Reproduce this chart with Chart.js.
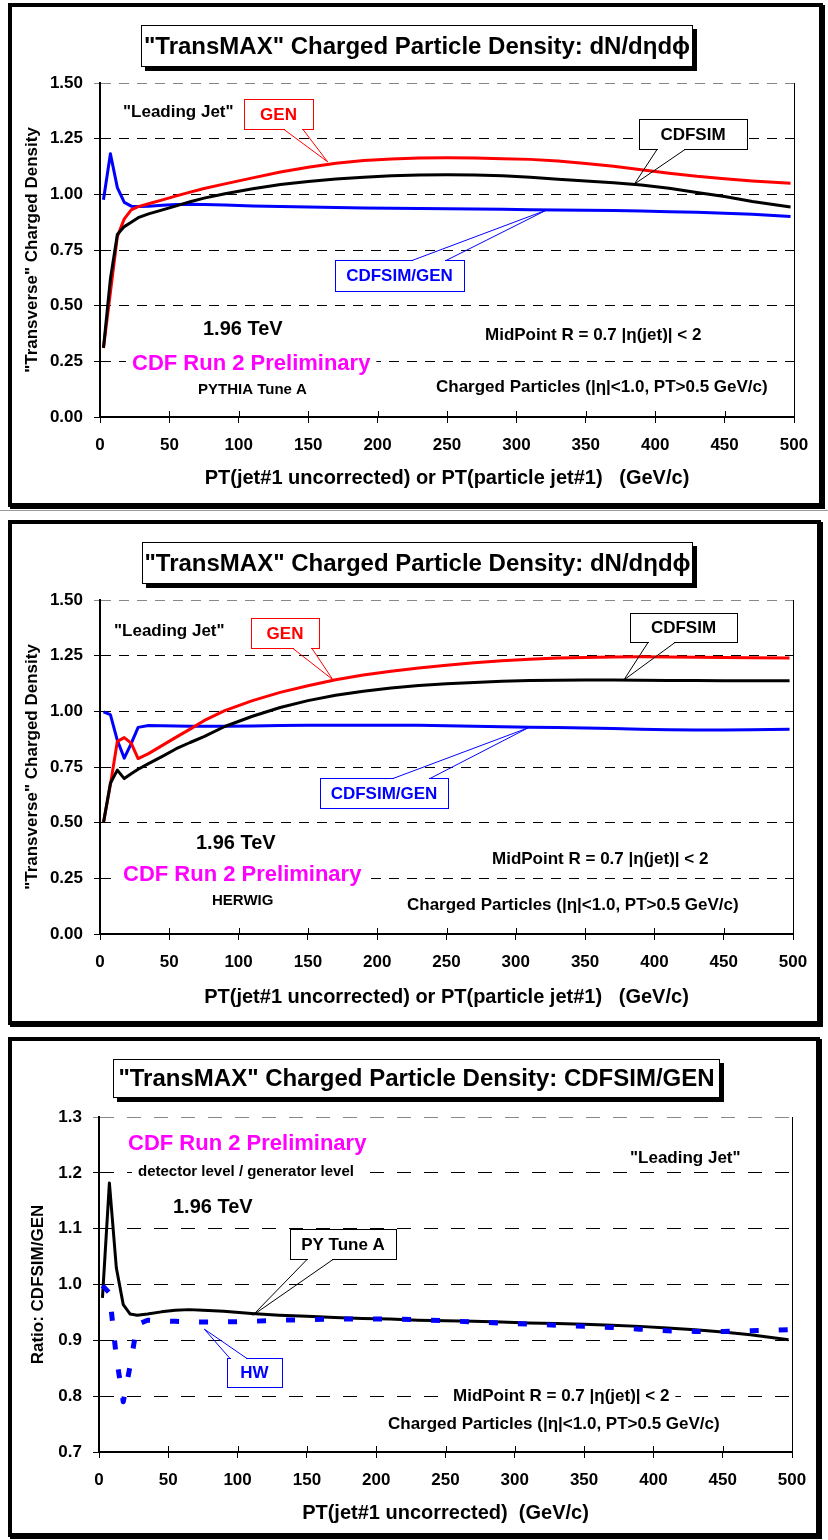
<!DOCTYPE html>
<html>
<head>
<meta charset="utf-8">
<script src="https://cdn.jsdelivr.net/npm/chart.js@4.4.1/dist/chart.umd.min.js"></script>
<style>
  body { margin: 0; background: #fff; }
  #page { position: relative; width: 828px; height: 1540px; background: #fff; overflow: hidden; }
  .frame { position: absolute; box-sizing: border-box; border: 4px solid #000; box-shadow: 2px 2px 0 #000; }
  canvas { position: absolute; left: 0; }
</style>
</head>
<body>
<div id="page">
  <div class="frame" style="left:8px;top:3px;width:815px;height:504px"></div>
  <div style="position:absolute;left:0;top:510px;width:828px;height:1px;background:#999"></div>
  <div class="frame" style="left:8px;top:520px;width:813px;height:505px"></div>
  <div class="frame" style="left:8px;top:1037px;width:812px;height:500px"></div>
  <canvas id="pythiaChart" width="828" height="510" style="top:0"></canvas>
  <canvas id="herwigChart" width="828" height="520" style="top:510px"></canvas>
  <canvas id="ratioChart" width="828" height="510" style="top:1030px"></canvas>
</div>
<script>
const FONT = '"Liberation Sans", Arial, sans-serif';

// leading jet PT bins (GeV/c), shared by every curve
const ptBins = [2.5, 7.5, 12.5, 17.5, 22.5, 27.5, 35, 45, 55, 65, 75, 90, 110, 130, 150, 170,
  190, 210, 230, 250, 270, 290, 310, 330, 350, 370, 390, 410, 430, 450, 470, 497.5];

// PYTHIA Tune A: generator level, detector level (CDFSIM) and their ratio
const pyGen = [0.31, 0.56, 0.81, 0.89, 0.93, 0.945, 0.958, 0.975, 0.993, 1.01, 1.026, 1.047,
  1.074, 1.1, 1.122, 1.14, 1.152, 1.159, 1.163, 1.164, 1.163, 1.16, 1.157, 1.15, 1.139, 1.126,
  1.11, 1.095, 1.081, 1.07, 1.06, 1.05];
const pySim = [0.31, 0.62, 0.82, 0.855, 0.875, 0.895, 0.912, 0.93, 0.948, 0.967, 0.983, 1.003,
  1.025, 1.044, 1.058, 1.069, 1.077, 1.083, 1.087, 1.088, 1.087, 1.083, 1.077, 1.068, 1.06, 1.052,
  1.042, 1.027, 1.008, 0.99, 0.968, 0.943];
const pyRatio = [0.976, 1.182, 1.03, 0.964, 0.947, 0.945, 0.947, 0.951, 0.954, 0.955, 0.954, 0.952,
  0.948, 0.945, 0.943, 0.941, 0.939, 0.938, 0.936, 0.935, 0.934, 0.933, 0.931, 0.93, 0.929, 0.927,
  0.925, 0.922, 0.919, 0.915, 0.91, 0.901];

// HERWIG
const hwGen = [0.5, 0.67, 0.865, 0.882, 0.857, 0.788, 0.81, 0.847, 0.884, 0.92, 0.958, 1.003,
  1.048, 1.085, 1.115, 1.142, 1.163, 1.18, 1.195, 1.207, 1.218, 1.227, 1.234, 1.239, 1.242, 1.244,
  1.245, 1.244, 1.243, 1.242, 1.241, 1.24];
const hwSim = [0.5, 0.677, 0.736, 0.698, 0.72, 0.74, 0.765, 0.798, 0.832, 0.86, 0.886, 0.932,
  0.978, 1.017, 1.048, 1.072, 1.09, 1.105, 1.116, 1.124, 1.13, 1.135, 1.138, 1.14, 1.141, 1.141,
  1.14, 1.139, 1.138, 1.137, 1.137, 1.137];
const hwRatio = [0.998, 0.985, 0.87, 0.79, 0.855, 0.928, 0.936, 0.935, 0.934, 0.933, 0.933, 0.933,
  0.934, 0.936, 0.937, 0.938, 0.938, 0.938, 0.937, 0.935, 0.933, 0.931, 0.929, 0.927, 0.925, 0.923,
  0.92, 0.917, 0.916, 0.916, 0.917, 0.919];

// axis ticks
const ptTicks = [0, 50, 100, 150, 200, 250, 300, 350, 400, 450, 500];
const densityTicks = [0, 0.25, 0.5, 0.75, 1.0, 1.25, 1.5];
const ratioTicks = [0.7, 0.8, 0.9, 1.0, 1.1, 1.2, 1.3];

const toPoints = ys => ptBins.map((x, i) => ({ x: x, y: ys[i] }));

function drawText(ctx, item) {
  ctx.font = 'bold ' + item.size + 'px ' + FONT;
  ctx.textBaseline = 'middle';
  ctx.textAlign = item.align || 'left';
  if (item.bg) {
    const w = ctx.measureText(item.text).width;
    const x0 = item.align === 'center' ? item.x - w / 2 : item.x;
    ctx.fillStyle = '#fff';
    ctx.fillRect(x0 - 6, item.y - item.size * 0.6, w + 12, item.size * 1.2);
  }
  ctx.fillStyle = item.color || '#000';
  ctx.fillText(item.text, item.x, item.y);
}

function drawCallout(ctx, chart, c) {
  const [bx, by, bw, bh] = c.box;
  const tx = chart.scales.x.getPixelForValue(c.tip[0]);
  const ty = chart.scales.y.getPixelForValue(c.tip[1]);
  ctx.lineWidth = 1;
  ctx.fillStyle = '#fff';
  ctx.fillRect(bx, by, bw, bh);
  ctx.strokeStyle = c.color;
  ctx.strokeRect(bx + 0.5, by + 0.5, bw, bh);
  // open the box edge where the pointer leaves it
  const [[x1, y1], [x2, y2]] = c.base;
  ctx.strokeStyle = '#fff';
  ctx.lineWidth = 3;
  ctx.beginPath();
  ctx.moveTo(x1 + 1, y1 + 0.5);
  ctx.lineTo(x2 - 1, y2 + 0.5);
  ctx.stroke();
  ctx.strokeStyle = c.color;
  ctx.lineWidth = 1;
  ctx.beginPath();
  ctx.moveTo(x1, y1 + 0.5);
  ctx.lineTo(tx, ty);
  ctx.moveTo(x2, y2 + 0.5);
  ctx.lineTo(tx, ty);
  ctx.stroke();
  drawText(ctx, { text: c.text, x: bx + bw / 2, y: by + bh / 2 + 1, size: c.size, color: c.color, align: 'center' });
}

// frame pieces, title box and annotations that Chart.js has no option for
const decorPlugin = {
  id: 'decor',
  afterDraw(chart, args, opts) {
    const ctx = chart.ctx;
    const area = chart.chartArea;
    const xs = chart.scales.x;
    ctx.save();
    // thin right border of the plot
    ctx.strokeStyle = '#000';
    ctx.lineWidth = 1;
    ctx.beginPath();
    ctx.moveTo(Math.round(area.right) + 0.5, area.top);
    ctx.lineTo(Math.round(area.right) + 0.5, area.bottom);
    ctx.stroke();
    // x ticks also poke into the plot
    ctx.beginPath();
    xs.ticks.forEach(t => {
      const px = Math.round(xs.getPixelForValue(t.value)) + 0.5;
      ctx.moveTo(px, area.bottom);
      ctx.lineTo(px, area.bottom - 6);
    });
    ctx.stroke();

    // title box with drop shadow
    const tb = opts.titleBox;
    ctx.fillStyle = '#000';
    ctx.fillRect(tb.x + 4, tb.y + 4, tb.w, tb.h);
    ctx.fillStyle = '#fff';
    ctx.fillRect(tb.x, tb.y, tb.w, tb.h);
    ctx.strokeStyle = '#000';
    ctx.strokeRect(tb.x + 0.5, tb.y + 0.5, tb.w - 1, tb.h - 1);
    drawText(ctx, { text: tb.text, x: tb.x + tb.w / 2, y: tb.y + tb.h / 2 + 1, size: tb.size, align: 'center' });

    opts.labels.forEach(l => drawText(ctx, l));
    opts.callouts.forEach(c => drawCallout(ctx, chart, c));
    ctx.restore();
  }
};

function buildChart(id, setup) {
  const ctx = document.getElementById(id).getContext('2d');
  const yMax = setup.yTicks[setup.yTicks.length - 1];
  return new Chart(ctx, {
    type: 'scatter',
    data: { datasets: setup.datasets },
    options: {
      responsive: false,
      animation: false,
      events: [],
      layout: { padding: { left: 0, top: setup.area.top, right: setup.area.right, bottom: 0 } },
      elements: { point: { radius: 0 }, line: { tension: 0, borderJoinStyle: 'round' } },
      plugins: { legend: { display: false }, tooltip: { enabled: false }, decor: setup.decor },
      scales: {
        x: {
          type: 'linear', min: 0, max: 500,
          afterBuildTicks: s => { s.ticks = ptTicks.map(v => ({ value: v })); },
          afterFit: s => { s.height = setup.area.xHeight; },
          ticks: { color: '#000', font: { family: FONT, size: 17, weight: 'bold' }, padding: 12, maxRotation: 0, autoSkip: false },
          grid: { display: true, drawOnChartArea: false, drawTicks: true, tickLength: 6, color: '#000', lineWidth: 1 },
          border: { display: true, color: '#000', width: 2 },
          title: {
            display: true, text: setup.xTitle, color: '#000',
            font: { family: FONT, size: 20, weight: 'bold' },
            padding: { top: 0, bottom: setup.area.xTitlePad }
          }
        },
        y: {
          type: 'linear', min: setup.yTicks[0], max: yMax,
          afterBuildTicks: s => { s.ticks = setup.yTicks.map(v => ({ value: v })); },
          afterFit: s => { s.width = setup.area.yWidth; },
          ticks: {
            color: '#000', font: { family: FONT, size: 17, weight: 'bold' }, padding: 11,
            callback: v => Number(v).toFixed(setup.yDecimals)
          },
          grid: {
            color: c => (c.tick && Math.abs(c.tick.value - yMax) < 1e-9) ? '#888' : '#000',
            lineWidth: 1, tickLength: 6, drawTicks: true
          },
          border: { display: true, color: '#000', width: 2, dash: setup.gridDash },
          title: {
            display: true, text: setup.yTitle, color: '#000',
            font: { family: FONT, size: setup.yTitleSize, weight: 'bold' },
            padding: { top: setup.area.yTitlePad, bottom: 0 }
          }
        }
      }
    },
    plugins: [decorPlugin]
  });
}

const xTitleBoth = 'PT(jet#1 uncorrected) or PT(particle jet#1)   (GeV/c)';
const yTitleDensity = '"Transverse" Charged Density';
const titleDensity = '"TransMAX" Charged Particle Density: dN/d\u03B7d\u03D5';
const midPoint = 'MidPoint R = 0.7 |\u03B7(jet)| < 2';
const chargedText = 'Charged Particles (|\u03B7|<1.0, PT>0.5 GeV/c)';

buildChart('pythiaChart', {
  datasets: [
    { label: 'CDFSIM', data: toPoints(pySim), showLine: true, borderColor: '#000000', borderWidth: 3 },
    { label: 'GEN', data: toPoints(pyGen), showLine: true, borderColor: '#FF0000', borderWidth: 3 },
    { label: 'CDFSIM/GEN', data: toPoints(pyRatio), showLine: true, borderColor: '#0000FF', borderWidth: 3 }
  ],
  yTicks: densityTicks, yDecimals: 2, gridDash: [10, 8],
  xTitle: xTitleBoth, yTitle: yTitleDensity, yTitleSize: 17,
  area: { top: 83, right: 34, xHeight: 93, yWidth: 100, xTitlePad: 20, yTitlePad: 22 },
  decor: {
    titleBox: { x: 141, y: 25, w: 552, h: 42, text: titleDensity, size: 24 },
    labels: [
      { text: '"Leading Jet"', x: 123, y: 112, size: 17 },
      { text: '1.96 TeV', x: 203, y: 329, size: 20 },
      { text: 'CDF Run 2 Preliminary', x: 132, y: 364, size: 22, color: '#FF00FF', bg: true },
      { text: 'PYTHIA Tune A', x: 198, y: 390, size: 15 },
      { text: midPoint, x: 485, y: 335, size: 17 },
      { text: chargedText, x: 436, y: 387, size: 17 }
    ],
    callouts: [
      { text: 'GEN', color: '#FF0000', size: 17, box: [244, 99, 69, 30], base: [[284, 129], [303, 129]], tip: [164, 1.146] },
      { text: 'CDFSIM', color: '#000000', size: 17, box: [639, 119, 108, 30], base: [[657, 149], [685, 149]], tip: [385, 1.046] },
      { text: 'CDFSIM/GEN', color: '#0000FF', size: 17, box: [335, 260, 129, 31], base: [[412, 260], [446, 260]], tip: [322, 0.93] }
    ]
  }
});

buildChart('herwigChart', {
  datasets: [
    { label: 'CDFSIM', data: toPoints(hwSim), showLine: true, borderColor: '#000000', borderWidth: 3 },
    { label: 'GEN', data: toPoints(hwGen), showLine: true, borderColor: '#FF0000', borderWidth: 3 },
    { label: 'CDFSIM/GEN', data: toPoints(hwRatio), showLine: true, borderColor: '#0000FF', borderWidth: 3 }
  ],
  yTicks: densityTicks, yDecimals: 2, gridDash: [10, 8],
  xTitle: xTitleBoth, yTitle: yTitleDensity, yTitleSize: 17,
  area: { top: 90, right: 35, xHeight: 96, yWidth: 100, xTitlePad: 21, yTitlePad: 22 },
  decor: {
    titleBox: { x: 142, y: 32, w: 551, h: 42, text: titleDensity, size: 24 },
    labels: [
      { text: '"Leading Jet"', x: 114, y: 121, size: 17 },
      { text: '1.96 TeV', x: 196, y: 333, size: 20 },
      { text: 'CDF Run 2 Preliminary', x: 123, y: 365, size: 22, color: '#FF00FF', bg: true },
      { text: 'HERWIG', x: 212, y: 391, size: 15 },
      { text: midPoint, x: 492, y: 349, size: 17 },
      { text: chargedText, x: 407, y: 395, size: 17 }
    ],
    callouts: [
      { text: 'GEN', color: '#FF0000', size: 17, box: [251, 108, 68, 30], base: [[293, 138], [312, 138]], tip: [168, 1.142] },
      { text: 'CDFSIM', color: '#000000', size: 17, box: [630, 103, 107, 29], base: [[648, 132], [675, 132]], tip: [378, 1.141] },
      { text: 'CDFSIM/GEN', color: '#0000FF', size: 17, box: [320, 268, 128, 30], base: [[393, 268], [430, 268]], tip: [309, 0.926] }
    ]
  }
});

buildChart('ratioChart', {
  datasets: [
    { label: 'HW', data: toPoints(hwRatio), showLine: true, borderColor: '#0000FF', borderWidth: 5, borderDash: [9, 20] },
    { label: 'PY Tune A', data: toPoints(pyRatio), showLine: true, borderColor: '#000000', borderWidth: 3 }
  ],
  yTicks: ratioTicks, yDecimals: 1, gridDash: [14, 13],
  xTitle: 'PT(jet#1 uncorrected)  (GeV/c)', yTitle: 'Ratio: CDFSIM/GEN', yTitleSize: 17,
  area: { top: 87, right: 36, xHeight: 88, yWidth: 99, xTitlePad: 15, yTitlePad: 28 },
  decor: {
    titleBox: { x: 113, y: 29, w: 607, h: 39, text: '"TransMAX" Charged Particle Density: CDFSIM/GEN', size: 24 },
    labels: [
      { text: 'CDF Run 2 Preliminary', x: 128, y: 114, size: 22, color: '#FF00FF' },
      { text: 'detector level / generator level', x: 138, y: 142, size: 15, bg: true },
      { text: '1.96 TeV', x: 173, y: 177, size: 20 },
      { text: '"Leading Jet"', x: 630, y: 128, size: 17 },
      { text: midPoint, x: 453, y: 366, size: 17, bg: true },
      { text: chargedText, x: 388, y: 394, size: 17 }
    ],
    callouts: [
      { text: 'PY Tune A', color: '#000000', size: 17, box: [290, 199, 106, 30], base: [[307, 229], [333, 229]], tip: [111, 0.945] },
      { text: 'HW', color: '#0000FF', size: 17, box: [227, 328, 55, 29], base: [[230, 328], [247, 328]], tip: [76, 0.92] }
    ]
  }
});
</script>
</body>
</html>
